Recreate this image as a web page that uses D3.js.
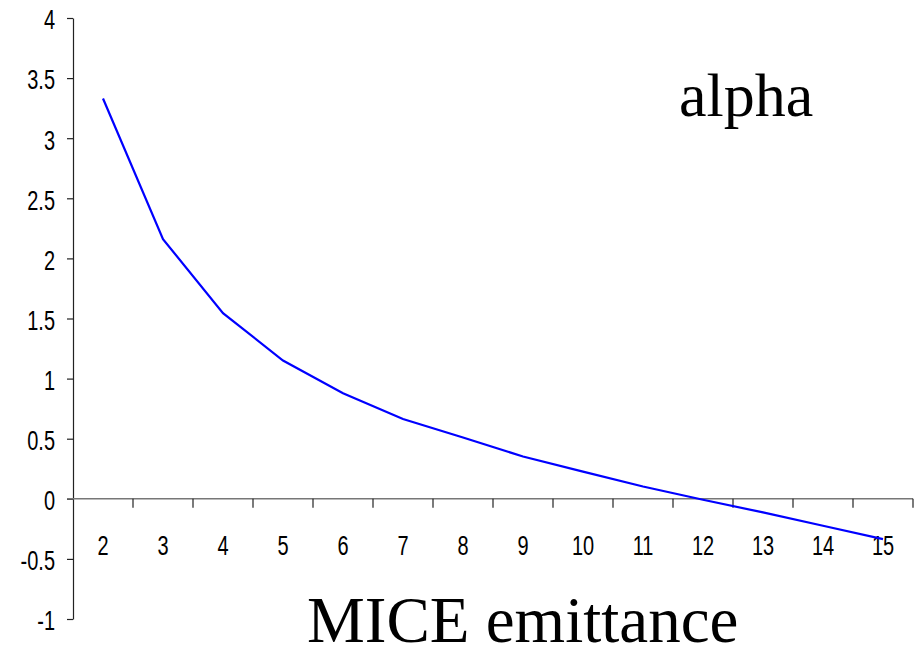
<!DOCTYPE html>
<html>
<head>
<meta charset="utf-8">
<script src="https://cdn.jsdelivr.net/npm/d3@7"></script>
<style>
  html, body { margin: 0; padding: 0; background: #fff; }
  svg { display: block; }
</style>
</head>
<body>
<svg id="chart" width="924" height="656"></svg>
<script>
// categories on the x axis (MICE emittance)
let emittance = [2, 3, 4, 5, 6, 7, 8, 9, 10, 11, 12, 13, 14, 15];
// alpha values
let alpha = [3.33, 2.16, 1.545, 1.15, 0.878, 0.664, 0.51, 0.352, 0.226, 0.102, -0.008, -0.113, -0.224, -0.336];
let yTicks = [-1, -0.5, 0, 0.5, 1, 1.5, 2, 2.5, 3, 3.5, 4];

let marginLeft = 73, plotRight = 913, plotTop = 18, plotBottom = 619;
let squeeze = 0.74;   // tick labels are narrow, tall digits
let tickSize = 27;
let tickFont = '"Liberation Sans", Arial, sans-serif';

let svg = d3.select('#chart');

let x = d3.scaleBand().domain(emittance).range([marginLeft, plotRight]).padding(0);
let y = d3.scaleLinear().domain([-1, 4]).range([plotBottom, plotTop]);

// y axis
let yAxis = svg.append('g')
    .attr('transform', `translate(${marginLeft},0)`)
    .call(d3.axisLeft(y).tickValues(yTicks).tickSize(6).tickSizeOuter(0)
        .tickFormat(d => String(d)));
yAxis.select('.domain').attr('stroke', '#222').attr('stroke-width', 1.2);
yAxis.selectAll('.tick line').attr('stroke', '#222').attr('stroke-width', 1.2);
yAxis.selectAll('text')
    .attr('x', -18 / squeeze)
    .attr('dy', '0.4em')
    .attr('transform', `scale(${squeeze},1)`)
    .attr('font-family', tickFont)
    .attr('font-size', tickSize)
    .attr('fill', '#000');

// x axis along y = 0, ticks on the band edges
let y0 = y(0);
svg.append('line')
    .attr('x1', marginLeft - 6).attr('x2', plotRight)
    .attr('y1', y0).attr('y2', y0)
    .attr('stroke', '#777').attr('stroke-width', 1.5);

let edges = emittance.map(d => x(d) + x.bandwidth());
svg.append('g').selectAll('line')
    .data(edges)
    .enter()
    .append('line')
    .attr('x1', d => d).attr('x2', d => d)
    .attr('y1', y0).attr('y2', y0 + 9)
    .attr('stroke', '#222').attr('stroke-width', 1.2);

svg.append('g').selectAll('text')
    .data(emittance)
    .enter()
    .append('text')
    .attr('transform', d => `translate(${x(d) + x.bandwidth() / 2},${y0 + 56}) scale(${squeeze},1)`)
    .attr('text-anchor', 'middle')
    .attr('font-family', tickFont)
    .attr('font-size', tickSize)
    .text(d => d);

// the curve
let line = d3.line()
    .x((d, i) => x(emittance[i]) + x.bandwidth() / 2)
    .y(d => y(d));

svg.append('path')
    .datum(alpha)
    .attr('d', line)
    .attr('fill', 'none')
    .attr('stroke', '#0000ff')
    .attr('stroke-width', 2.2);

// labels
svg.append('text')
    .attr('x', 679).attr('y', 116)
    .attr('font-family', '"Liberation Serif", "Times New Roman", serif')
    .attr('font-size', 62)
    .text('alpha');

svg.append('text')
    .attr('x', 307).attr('y', 642)
    .attr('font-family', '"Liberation Serif", "Times New Roman", serif')
    .attr('font-size', 65)
    .text('MICE emittance');
</script>
</body>
</html>
